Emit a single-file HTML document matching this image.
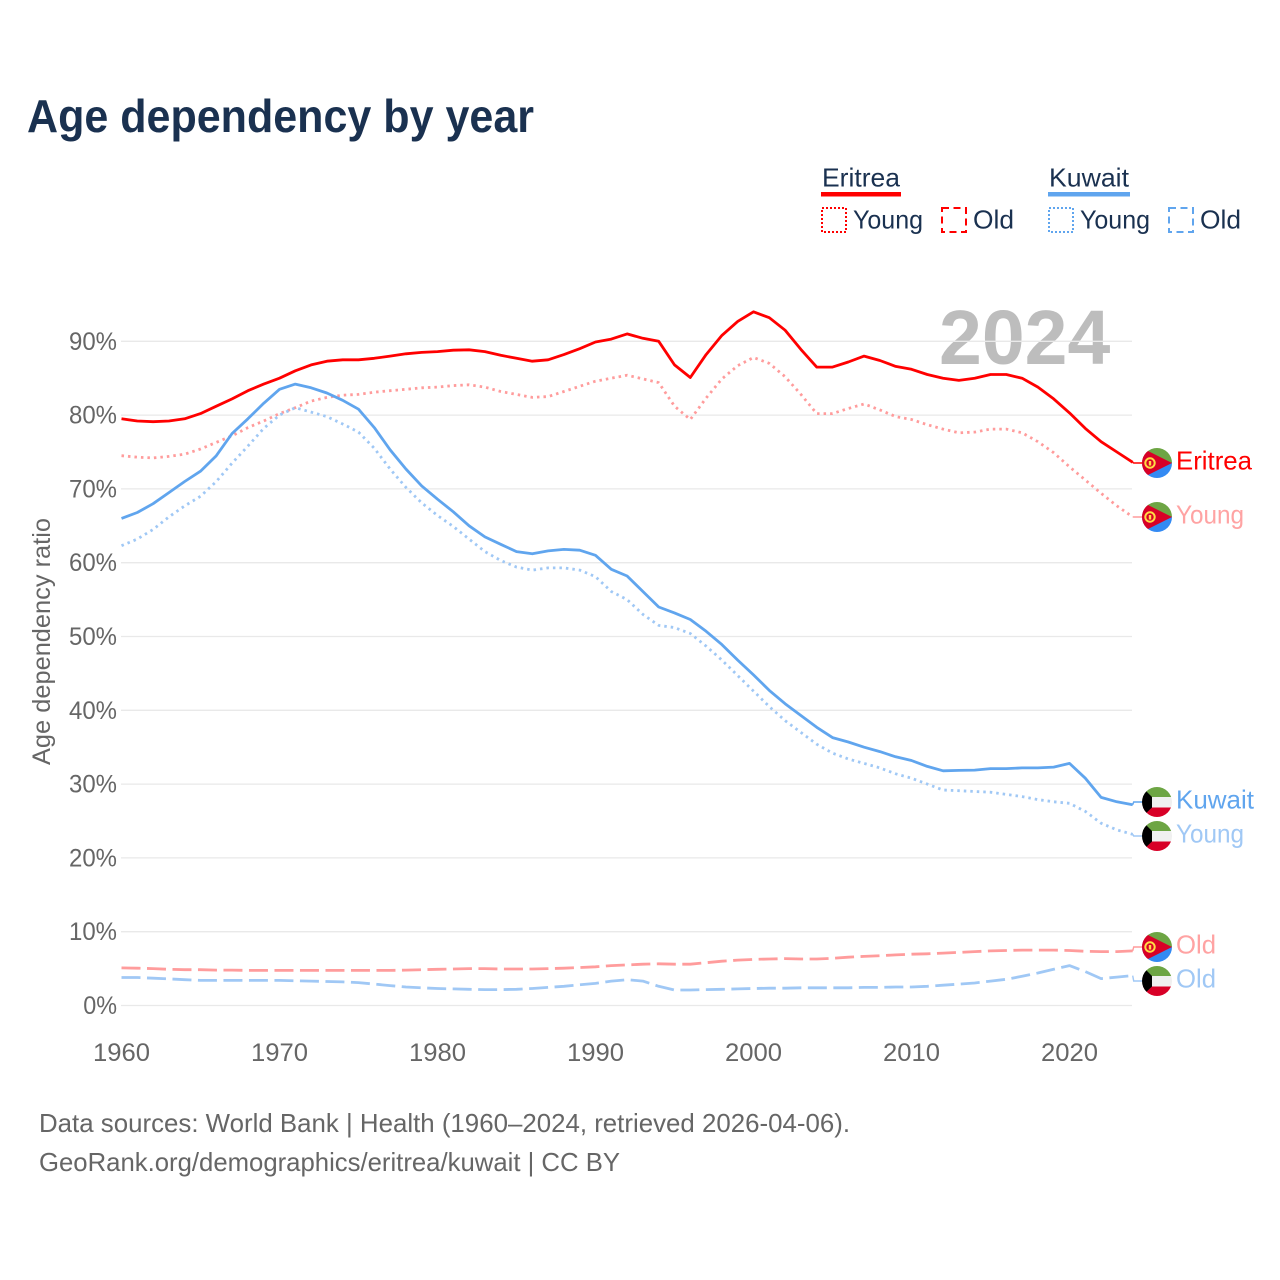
<!DOCTYPE html>
<html lang="en">
<head>
<meta charset="utf-8">
<title>Age dependency by year</title>
<style>
html,body{margin:0;padding:0;background:#fff;}
svg{display:block;font-family:"Liberation Sans",sans-serif;}
</style>
</head>
<body>
<svg id="chart" xmlns="http://www.w3.org/2000/svg" width="1280" height="1280" viewBox="0 0 1280 1280">
<defs>
<clipPath id="flag-clip"><circle cx="0" cy="0" r="15"/></clipPath>
<g id="flag-er" clip-path="url(#flag-clip)">
<rect x="-15" y="-15" width="30" height="15" fill="#6da544"/>
<rect x="-15" y="0" width="30" height="15" fill="#338af3"/>
<polygon points="-15,-15 15,0 -15,15" fill="#d80027"/>
<circle cx="-7" cy="0" r="4.7" fill="none" stroke="#ffda44" stroke-width="2"/>
<rect x="-8.2" y="-2" width="2.4" height="4.5" fill="#ffda44"/>
</g>
<g id="flag-kw" clip-path="url(#flag-clip)">
<rect x="-15" y="-15" width="30" height="10" fill="#6da544"/>
<rect x="-15" y="-5" width="30" height="10.5" fill="#f0f0f0"/>
<rect x="-15" y="5.5" width="30" height="10" fill="#d80027"/>
<polygon points="-15,-15 -5,-5 -5,5.5 -15,15" fill="#000"/>
</g>
</defs>
<rect x="0" y="0" width="1280" height="1280" fill="#fff"/>
<text x="27" y="132" font-size="46" font-weight="700" fill="#1a3150" textLength="507" lengthAdjust="spacingAndGlyphs">Age dependency by year</text>

<g font-size="26" fill="#1a3150">
<text x="822" y="186.5" textLength="78" lengthAdjust="spacingAndGlyphs">Eritrea</text>
<rect x="821" y="192" width="80" height="4.5" fill="#ff0000"/>
<rect x="822" y="208" width="24" height="24" fill="none" stroke="#ff0000" stroke-width="2" stroke-dasharray="2 2"/>
<text x="853" y="228.5" textLength="70" lengthAdjust="spacingAndGlyphs">Young</text>
<rect x="942" y="208" width="24" height="24" fill="none" stroke="#ff0000" stroke-width="2" stroke-dasharray="7 4.5"/>
<text x="973" y="228.5" textLength="41" lengthAdjust="spacingAndGlyphs">Old</text>
<text x="1049" y="186.5" textLength="80" lengthAdjust="spacingAndGlyphs">Kuwait</text>
<rect x="1048" y="192" width="82" height="4.5" fill="#60a5ee"/>
<rect x="1049" y="208" width="24" height="24" fill="none" stroke="#60a5ee" stroke-width="2" stroke-dasharray="2 2"/>
<text x="1080" y="228.5" textLength="70" lengthAdjust="spacingAndGlyphs">Young</text>
<rect x="1169" y="208" width="24" height="24" fill="none" stroke="#60a5ee" stroke-width="2" stroke-dasharray="7 4.5"/>
<text x="1200" y="228.5" textLength="41" lengthAdjust="spacingAndGlyphs">Old</text>
</g>

<text x="939" y="364" font-size="77" font-weight="700" fill="#bdbdbd">2024</text>
<g id="grid"></g>
<g id="series"></g>
<g id="end-labels"></g>
<g id="y-ticks"></g>
<g id="x-ticks"></g>
<text transform="translate(50,765) rotate(-90)" font-size="25" fill="#666" textLength="247" lengthAdjust="spacingAndGlyphs">Age dependency ratio</text>

<text x="39" y="1132" font-size="26" fill="#666" textLength="811" lengthAdjust="spacingAndGlyphs">Data sources: World Bank | Health (1960–2024, retrieved 2026-04-06).</text>
<text x="39" y="1171" font-size="26" fill="#666" textLength="581" lengthAdjust="spacingAndGlyphs">GeoRank.org/demographics/eritrea/kuwait | CC BY</text>
</svg>
<script>
const startYear = 1960;
const yTickValues = [0, 10, 20, 30, 40, 50, 60, 70, 80, 90];
const yTickLabels = ["0%", "10%", "20%", "30%", "40%", "50%", "60%", "70%", "80%", "90%"];
const xTickValues = [1960, 1970, 1980, 1990, 2000, 2010, 2020];
const xTickLabels = ["1960", "1970", "1980", "1990", "2000", "2010", "2020"];

const eritreaTotal = [79.5,79.2,79.1,79.2,79.5,80.2,81.2,82.2,83.3,84.2,85,86,86.8,87.3,87.5,87.5,87.7,88,88.3,88.5,88.6,88.8,88.85,88.6,88.1,87.7,87.3,87.5,88.2,89,89.9,90.3,91,90.4,90,86.8,85.1,88.2,90.8,92.7,94,93.2,91.5,88.9,86.5,86.5,87.2,88,87.4,86.6,86.2,85.5,85,84.7,85,85.5,85.5,85,83.8,82.2,80.3,78.2,76.4,75,73.6];
const eritreaYoung = [74.5,74.3,74.2,74.4,74.7,75.4,76.3,77.2,78.3,79.2,80.2,81,81.9,82.4,82.7,82.8,83.1,83.3,83.5,83.7,83.8,84,84.1,83.8,83.2,82.8,82.4,82.5,83.2,83.9,84.6,85,85.4,84.9,84.4,81.2,79.4,82.3,84.9,86.7,87.8,87,85.2,82.8,80.2,80.2,80.9,81.5,80.7,79.8,79.4,78.7,78.1,77.6,77.7,78.1,78.1,77.6,76.4,74.9,73,71.2,69.4,67.7,66.2];
const eritreaOld = [5.1,5.05,5,4.9,4.85,4.85,4.8,4.8,4.75,4.75,4.75,4.75,4.75,4.75,4.75,4.75,4.75,4.75,4.8,4.85,4.9,4.95,5,5,4.95,4.95,4.95,5,5.05,5.15,5.25,5.4,5.5,5.6,5.65,5.6,5.6,5.8,6,6.15,6.25,6.3,6.35,6.3,6.3,6.4,6.55,6.65,6.75,6.85,6.95,7,7.1,7.2,7.3,7.4,7.45,7.5,7.5,7.5,7.45,7.35,7.3,7.3,7.4];
const kuwaitTotal = [66,66.8,68,69.5,71,72.4,74.5,77.5,79.5,81.6,83.5,84.2,83.7,83,82,80.8,78.3,75.3,72.7,70.4,68.6,66.9,65,63.5,62.5,61.5,61.2,61.6,61.8,61.7,61,59.1,58.2,56.1,54,53.2,52.3,50.7,48.9,46.8,44.8,42.7,40.9,39.3,37.7,36.3,35.7,35,34.4,33.7,33.2,32.4,31.8,31.85,31.9,32.1,32.1,32.2,32.2,32.3,32.8,30.8,28.2,27.6,27.2];
const kuwaitYoung = [62.3,63.2,64.5,66.2,67.7,69,71,73.5,75.8,78.2,80,81,80.4,79.8,78.8,77.7,75.5,72.7,70.2,68.1,66.4,64.9,63.2,61.5,60.3,59.4,59,59.3,59.3,59,58.1,56.1,55,53,51.5,51.2,50.4,48.7,46.8,44.7,42.6,40.5,38.6,37,35.4,34.2,33.4,32.8,32.2,31.4,30.8,30,29.2,29.1,29,28.9,28.6,28.3,27.9,27.6,27.4,26.3,24.7,23.8,23.2];
const kuwaitOld = [3.8,3.8,3.7,3.6,3.5,3.4,3.4,3.4,3.4,3.4,3.4,3.35,3.3,3.25,3.2,3.1,2.9,2.7,2.5,2.4,2.3,2.25,2.2,2.15,2.15,2.2,2.3,2.45,2.6,2.8,3,3.3,3.5,3.3,2.6,2.1,2.1,2.15,2.2,2.25,2.3,2.35,2.35,2.4,2.4,2.4,2.4,2.45,2.45,2.5,2.5,2.6,2.75,2.9,3.05,3.3,3.55,3.95,4.4,4.9,5.4,4.6,3.65,3.85,4.05];

const NS = 'http://www.w3.org/2000/svg';
function xScale(year) { return 121.5 + (year - 1960) * 15.8; }
function yScale(value) { return 1005.5 - value * 7.38; }

function makeNode(tag, attrs, text) {
  const el = document.createElementNS(NS, tag);
  for (const key in attrs) el.setAttribute(key, attrs[key]);
  if (text !== undefined) el.textContent = text;
  return el;
}

const gridGroup = document.getElementById('grid');
const yTickGroup = document.getElementById('y-ticks');
yTickValues.forEach(function (value, i) {
  const line = makeNode('line', { x1: 121, x2: 1132, y1: yScale(value), y2: yScale(value), stroke: '#e9e9e9', 'stroke-width': 1.3 });
  
  
  gridGroup.appendChild(line);
  const labelText = yTickLabels[i];
  const label = makeNode('text', { x: 117, y: yScale(value) + 8.5, 'text-anchor': 'end', 'font-size': 25, fill: '#666', textLength: 19.6 + 14.2 * (labelText.length - 1), lengthAdjust: 'spacingAndGlyphs' }, labelText);
  
  
  yTickGroup.appendChild(label);
});

const xTickGroup = document.getElementById('x-ticks');
xTickValues.forEach(function (year, i) {
  const label = makeNode('text', { x: xScale(year), y: 1061, 'text-anchor': 'middle', 'font-size': 25, fill: '#666', textLength: 57, lengthAdjust: 'spacingAndGlyphs' }, xTickLabels[i]);
  
  
  xTickGroup.appendChild(label);
});

const dotted = '2.5 4';
const dashed = '19 6.5';
const seriesList = [
  { key: 'eritrea-old', values: eritreaOld, color: '#ff9c9c', dash: dashed, labelY: 947, label: 'Old', width: 40, flag: 'flag-er', labelColor: '#ffa3a3' },
  { key: 'kuwait-old', values: kuwaitOld, color: '#a0c8f5', dash: dashed, labelY: 981, label: 'Old', width: 40, flag: 'flag-kw', labelColor: '#a0c8f5' },
  { key: 'eritrea-young', values: eritreaYoung, color: '#ff9c9c', dash: dotted, labelY: 517, label: 'Young', width: 68, flag: 'flag-er', labelColor: '#ffa3a3' },
  { key: 'kuwait-young', values: kuwaitYoung, color: '#a0c8f5', dash: dotted, labelY: 836, label: 'Young', width: 68, flag: 'flag-kw', labelColor: '#a0c8f5' },
  { key: 'kuwait-total', values: kuwaitTotal, color: '#60a5ee', dash: '', labelY: 802, label: 'Kuwait', width: 78, flag: 'flag-kw', labelColor: '#60a5ee' },
  { key: 'eritrea-total', values: eritreaTotal, color: '#ff0000', dash: '', labelY: 463, label: 'Eritrea', width: 76, flag: 'flag-er', labelColor: '#ff0000' }
];

const seriesGroup = document.getElementById('series');
const labelGroup = document.getElementById('end-labels');
seriesList.forEach(function (s) {
  const points = s.values.map(function (v, i) { return xScale(startYear + i).toFixed(1) + ',' + yScale(v).toFixed(1); });
  const attrs = { points: points.join(' '), fill: 'none', stroke: s.color, 'stroke-width': 2.8, 'stroke-linejoin': 'round' };
  if (s.dash) attrs['stroke-dasharray'] = s.dash;
  const line = makeNode('polyline', attrs);
  
  
  seriesGroup.appendChild(line);

  const endX = xScale(startYear + s.values.length - 1);
  const endY = yScale(s.values[s.values.length - 1]);
  const connector = makeNode('polyline', { points: endX + ',' + endY + ' ' + (endX + 1) + ',' + s.labelY + ' 1142,' + s.labelY, fill: 'none', stroke: s.color, 'stroke-width': 1.4 });
  
  
  labelGroup.appendChild(connector);

  const flag = makeNode('use', { href: '#' + s.flag, transform: 'translate(1157,' + s.labelY + ')' });
  
  
  labelGroup.appendChild(flag);

  const label = makeNode('text', { x: 1176, y: s.labelY + 6.3, 'font-size': 26, fill: s.labelColor, textLength: s.width, lengthAdjust: 'spacingAndGlyphs' }, s.label);
  
  
  labelGroup.appendChild(label);
});
</script>
</body>
</html>
